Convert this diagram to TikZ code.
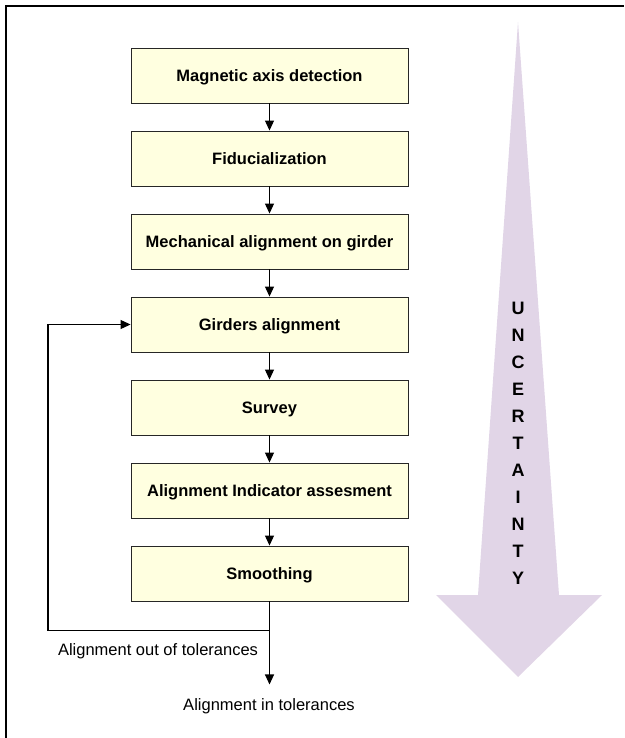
\documentclass[tikz,border=0pt]{standalone}
\usepackage{fontspec}
\setmainfont{Liberation Sans}
\usetikzlibrary{arrows.meta}
\usetikzlibrary{calc}
\usetikzlibrary{positioning}

\definecolor{boxfill}{HTML}{FFFFE0}
\definecolor{bigarrow}{HTML}{E1D5E7}

\begin{document}
\begin{tikzpicture}[x=1pt,y=-1pt,
    stepbox/.style={draw=black!85, line width=0.9pt, fill=boxfill, minimum width=277pt,
        minimum height=55pt, inner sep=0pt, text depth=0pt, font=\bfseries\fontsize{16.5}{19}\selectfont},
    flow/.style={-{Triangle[length=10pt,width=9pt]}, line width=1.1pt},
    label/.style={font=\fontsize{16.5}{19}\selectfont}]
    \useasboundingbox (0,0) rectangle (624,738);

    % frame
    \draw[line width=2pt] (6,738) -- (6,6) -- (624,6);

    % uncertainty arrow
    \fill[bigarrow] (518,22) -- (559,595) -- (602,595) -- (518,677) -- (436,595) -- (478,595) -- cycle;
    \node[align=center, font=\bfseries\fontsize{18}{27}\selectfont] (uncert) at (518,443)
        {U\\N\\C\\E\\R\\T\\A\\I\\N\\T\\Y};

    % steps
    \node[stepbox] (magnetic) at (269.5,75.5) {Magnetic axis detection};
    \node[stepbox, below=27.1pt of magnetic] (fiducial) {Fiducialization};
    \node[stepbox, below=27.1pt of fiducial] (mechanical) {Mechanical alignment on girder};
    \node[stepbox, below=27.1pt of mechanical] (girders) {Girders alignment};
    \node[stepbox, below=27.1pt of girders] (survey) {Survey};
    \node[stepbox, below=27.1pt of survey] (indicator) {Alignment Indicator assesment};
    \node[stepbox, below=27.1pt of indicator] (smooth) {Smoothing};

    \draw[flow] (magnetic) -- (fiducial);
    \draw[flow] (fiducial) -- (mechanical);
    \draw[flow] (mechanical) -- (girders);
    \draw[flow] (girders) -- (survey);
    \draw[flow] (survey) -- (indicator);
    \draw[flow] (indicator) -- (smooth);

    % loop back
    \coordinate (split) at ($(smooth.south)+(0,29)$);
    \coordinate (loop) at ($(split)+(-221.5,0)$);
    \coordinate (inend) at ($(split)+(0,54)$);
    \draw[line width=1.1pt] (smooth.south) -- (split);
    \draw[flow] (split) -- (loop) |- (girders.west);
    \draw[flow] (split) -- (inend);

    \node[label] (outtol) at (158,651) {Alignment out of tolerances};
    \node[label] (intol) at (269,706) {Alignment in tolerances};

\end{tikzpicture}
\end{document}
